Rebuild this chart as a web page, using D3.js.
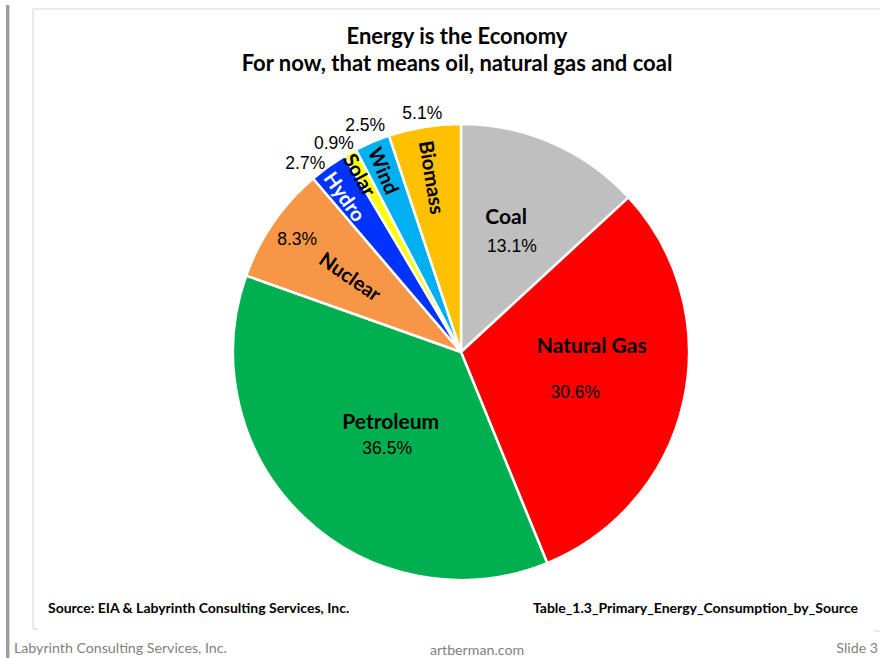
<!DOCTYPE html>
<html>
<head>
<meta charset="utf-8">
<script src="https://cdn.jsdelivr.net/npm/d3@7"></script>
<style>
  html, body { margin: 0; padding: 0; background: #fff; }
  svg { display: block; }
</style>
</head>
<body>
<svg id="chart" width="880" height="658"></svg>
<script>
// U.S. primary energy consumption by source, share of total (%)
const categories = ["Coal", "Natural Gas", "Petroleum", "Nuclear", "Hydro", "Solar", "Wind", "Biomass"];
const shares = [13.1, 30.6, 36.5, 8.3, 2.7, 0.9, 2.5, 5.1];
const sliceColors = ["#BFBFBF", "#FF0000", "#00B050", "#F79646", "#0033FF", "#FFFF00", "#00B0F0", "#FFC000"];
const nameColors = ["#000", "#000", "#000", "#000", "#fff", "#000", "#000", "#000"];
const titleLines = ["Energy is the Economy", "For now, that means oil, natural gas and coal"];
const sourceNote = "Source: EIA & Labyrinth Consulting  Services, Inc.";
const tableNote = "Table_1.3_Primary_Energy_Consumption_by_Source";
const footerLeft = "Labyrinth Consulting Services, Inc.";
const footerCenter = "artberman.com";
const footerRight = "Slide 3";

// Label placement: radius from the pie centre and angular nudge (degrees) from the slice middle.
// Narrow slices get their name turned along the radius.
const nameLayout = [
  { r: 144, da: -5.4,  radial: false },
  { r: 131, da: -16.0, radial: false },
  { r: 98,  da: 2.1,   radial: false },
  { r: 134, da: 0,     radial: true },
  { r: 194, da: -1.0,  radial: true },
  { r: 204, da: -0.5,  radial: true },
  { r: 197, da: 0,     radial: true },
  { r: 177, da: 0,     radial: true }
];
const pctLayout = [
  { r: 118, da: 1.9 },
  { r: 121, da: 6.7 },
  { r: 121, da: -6.1 },
  { r: 199, da: 0 },
  { r: 245, da: -3.9 },
  { r: 245, da: -2.2 },
  { r: 246, da: 0 },
  { r: 242, da: 0 }
];

const svg = d3.select("#chart");
const W = 880, H = 658;
const cx = 461, cy = 352, R = 228;
const labelFont = "Lato, 'Open Sans', sans-serif";
const numFont = "'Liberation Sans', Arial, sans-serif";

svg.append("rect").attr("width", W).attr("height", H).attr("fill", "#fff");

// slide edge on the left
svg.append("rect").attr("x", 6).attr("y", 5).attr("width", 3).attr("height", H - 5).attr("fill", "#9e9e9e");
svg.append("rect").attr("x", 9).attr("y", 5).attr("width", 1).attr("height", H - 5).attr("fill", "#d4d4d4");

// chart frame
const frame = svg.append("g").attr("stroke", "#e2e2e2").attr("stroke-width", 1.5).attr("fill", "none");
frame.append("line").attr("x1", 33).attr("y1", 9).attr("x2", W).attr("y2", 9);
frame.append("line").attr("x1", 33).attr("y1", 9).attr("x2", 33).attr("y2", 629);
frame.append("line").attr("x1", 33).attr("y1", 629).attr("x2", 38).attr("y2", 629);
frame.append("line").attr("x1", 874).attr("y1", 631).attr("x2", W).attr("y2", 631);

// titles
const titleY = [35, 62];
svg.selectAll("text.title").data(titleLines).join("text")
  .attr("class", "title")
  .attr("x", 457).attr("y", (d, i) => titleY[i])
  .attr("text-anchor", "middle").attr("dominant-baseline", "central")
  .attr("font-family", labelFont).attr("font-weight", 700).attr("font-size", 22)
  .attr("fill", "#000")
  .text(d => d);

// pie
const color = d3.scaleOrdinal().domain(categories).range(sliceColors);
const pie = d3.pie().sort(null).value(d => d.value).startAngle(0).endAngle(2 * Math.PI);
const arcs = pie(categories.map((c, i) => ({ name: c, value: shares[i], i })));
const arc = d3.arc().innerRadius(0).outerRadius(R);

const g = svg.append("g").attr("transform", `translate(${cx},${cy})`);
g.selectAll("path").data(arcs).join("path")
  .attr("d", arc)
  .attr("fill", d => color(d.data.name))
  .attr("stroke", "#fff").attr("stroke-width", 2.5).attr("stroke-linejoin", "round");

const deg = Math.PI / 180;
const mid = d => (d.startAngle + d.endAngle) / 2;

// category names
g.selectAll("text.name").data(arcs).join("text")
  .attr("class", "name")
  .attr("transform", d => {
    const L = nameLayout[d.data.i];
    const [x, y] = d3.pointRadial(mid(d) + L.da * deg, L.r);
    const rot = L.radial ? mid(d) / deg - 270 : 0;
    return `translate(${x},${y}) rotate(${rot})`;
  })
  .attr("text-anchor", "middle").attr("dominant-baseline", "central")
  .attr("font-family", labelFont).attr("font-weight", 700)
  .attr("font-size", d => nameLayout[d.data.i].radial ? 20 : 21)
  .attr("fill", d => nameColors[d.data.i])
  .text(d => d.data.name);

// percentages
g.selectAll("text.pct").data(arcs).join("text")
  .attr("class", "pct")
  .attr("transform", d => {
    const L = pctLayout[d.data.i];
    const [x, y] = d3.pointRadial(mid(d) + L.da * deg, L.r);
    return `translate(${x},${y})`;
  })
  .attr("text-anchor", "middle").attr("dominant-baseline", "central")
  .attr("font-family", numFont).attr("font-size", 17.5)
  .attr("fill", "#000")
  .text(d => d3.format(".1f")(d.data.value) + "%");

// notes inside the frame
svg.append("text").attr("x", 48).attr("y", 607)
  .attr("dominant-baseline", "central")
  .attr("font-family", labelFont).attr("font-weight", 700).attr("font-size", 14)
  .attr("fill", "#000").text(sourceNote);
svg.append("text").attr("x", 858).attr("y", 607)
  .attr("text-anchor", "end").attr("dominant-baseline", "central")
  .attr("font-family", labelFont).attr("font-weight", 700).attr("font-size", 14)
  .attr("fill", "#000").text(tableNote);

// slide footer
const footer = svg.append("g").attr("font-family", labelFont).attr("font-size", 14.2).attr("fill", "#7f7f7f");
footer.append("text").attr("x", 14).attr("y", 647).attr("dominant-baseline", "central").text(footerLeft);
footer.append("text").attr("x", 477).attr("y", 649).attr("text-anchor", "middle").attr("dominant-baseline", "central").text(footerCenter);
footer.append("text").attr("x", 878).attr("y", 647).attr("text-anchor", "end").attr("dominant-baseline", "central").text(footerRight);
</script>
</body>
</html>
